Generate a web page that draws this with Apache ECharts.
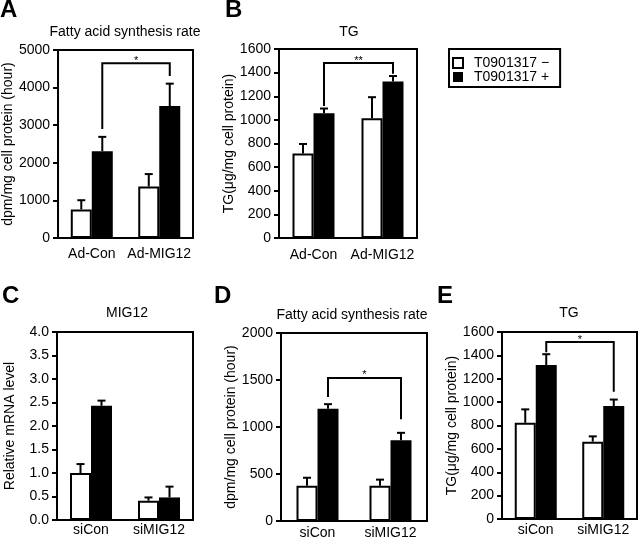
<!DOCTYPE html>
<html><head><meta charset="utf-8">
<script src="https://cdn.jsdelivr.net/npm/echarts@6/dist/echarts.min.js"></script>
<style>html,body{margin:0;padding:0;background:#fff}#c{width:640px;height:541px}</style>
</head><body><div id="c"></div>
<script>
// ---- data ----
const seriesNames = ['T0901317 \u2212', 'T0901317 +'];
const catsTop = ['Ad-Con', 'Ad-MIG12'];
const catsBottom = ['siCon', 'siMIG12'];

const aWhite = [760, 1370], aWhiteErr = [245, 330], aBlack = [2310, 3510], aBlackErr = [380, 595];
const bWhite = [716, 1014], bWhiteErr = [80, 178], bBlack = [1056, 1325], bBlackErr = [40, 46];
const cWhite = [1.0, 0.41], cWhiteErr = [0.19, 0.07], cBlack = [2.43, 0.48], cBlackErr = [0.11, 0.23];
const dWhite = [375, 375], dWhiteErr = [85, 65], dBlack = [1193, 860], dBlackErr = [50, 78];
const eWhite = [823, 662], eWhiteErr = [115, 45], eBlack = [1318, 967], eBlackErr = [92, 55];

// brackets: [leftLegBottom, rightLegBottom, top]
const aBracket = [2900, 4310, 4650], aBracketLabel = '*';
const bBracket = [1118, 1390, 1481], bBracketLabel = '**';
const dBracket = [1320, 1083, 1522], dBracketLabel = '*';
const eBracket = [1427, 1088, 1514], eBracketLabel = '*';

const yTicksA = {min: 0, max: 5000, interval: 1000};
const yTicksB = {min: 0, max: 1600, interval: 200};
const yTicksC = {min: 0, max: 4, interval: 0.5};
const yTicksD = {min: 0, max: 2000, interval: 500};
const yTicksE = {min: 0, max: 1600, interval: 200};

const panelTitles = ['Fatty acid synthesis rate', 'TG', 'MIG12', 'Fatty acid synthesis rate', 'TG'];
const panelLetters = ['A', 'B', 'C', 'D', 'E'];
const yNames = ['dpm/mg cell protein (hour)', 'TG(\u03bcg/mg cell protein)', 'Relative mRNA level', 'dpm/mg cell protein (hour)', 'TG(\u03bcg/mg cell protein)'];

// ---- layout ----
const FONT = '"Liberation Sans", Arial, Helvetica, sans-serif';
const BAR_W = 21, CAP = 4;
const grids = [
  {left: 58, top: 50, width: 135, height: 188},
  {left: 279, top: 49, width: 138, height: 189},
  {left: 57, top: 332, width: 136, height: 188},
  {left: 281, top: 333, width: 146, height: 188},
  {left: 502, top: 332, width: 135, height: 187}
];
const labelMargins = [9, 10, 3, 5, 4];
const nameGaps = [42, 38, 40, 41, 42];
const titlePos = [[125, 32], [349, 32], [127, 313], [352, 315], [569, 313]];
const letterPos = [[0, 10], [225, 10], [2, 296], [214, 296], [437, 296]];

const panels = [
  {cats: catsTop, w: aWhite, we: aWhiteErr, b: aBlack, be: aBlackErr, y: yTicksA, br: aBracket, brl: aBracketLabel},
  {cats: catsTop, w: bWhite, we: bWhiteErr, b: bBlack, be: bBlackErr, y: yTicksB, br: bBracket, brl: bBracketLabel},
  {cats: catsBottom, w: cWhite, we: cWhiteErr, b: cBlack, be: cBlackErr, y: yTicksC, br: null},
  {cats: catsBottom, w: dWhite, we: dWhiteErr, b: dBlack, be: dBlackErr, y: yTicksD, br: dBracket, brl: dBracketLabel},
  {cats: catsBottom, w: eWhite, we: eWhiteErr, b: eBlack, be: eBlackErr, y: yTicksE, br: eBracket, brl: eBracketLabel}
];

function errSeries(i, vals, errs, side) {
  return {
    type: 'custom', xAxisIndex: i, yAxisIndex: i, z: 5, silent: true,
    data: vals.map((v, k) => [k, v, errs[k]]),
    encode: {x: 0, y: 1},
    renderItem: function (params, api) {
      const c = api.coord([api.value(0), api.value(1)]);
      const t = api.coord([api.value(0), api.value(1) + api.value(2)]);
      const x = c[0] + side * BAR_W / 2;
      return {type: 'group', children: [
        {type: 'line', shape: {x1: x, y1: c[1], x2: x, y2: t[1]}, style: {stroke: '#000', lineWidth: 2}},
        {type: 'line', shape: {x1: x - CAP, y1: t[1], x2: x + CAP, y2: t[1]}, style: {stroke: '#000', lineWidth: 2}}
      ]};
    }
  };
}

function bracketSeries(i, br, label) {
  return {
    type: 'custom', xAxisIndex: i, yAxisIndex: i, z: 6, silent: true,
    data: [[0, 1, br[0], br[1], br[2]]],
    encode: {x: 0, y: 4},
    renderItem: function (params, api) {
      const xl = api.coord([api.value(0), 0])[0] + BAR_W / 2;
      const xr = api.coord([api.value(1), 0])[0] + BAR_W / 2;
      const yl = api.coord([0, api.value(2)])[1];
      const yr = api.coord([0, api.value(3)])[1];
      const yt = api.coord([0, api.value(4)])[1];
      return {type: 'group', children: [
        {type: 'polyline', shape: {points: [[xl, yl], [xl, yt], [xr, yt], [xr, yr]]}, style: {stroke: '#000', lineWidth: 2, fill: null}},
        {type: 'text', style: {text: label, x: (xl + xr) / 2, y: yt + 3, align: 'center', verticalAlign: 'bottom', fontSize: 11, fontFamily: FONT, fill: '#000'}}
      ]};
    }
  };
}

const option = {
  animation: false,
  backgroundColor: '#fff',
  grid: grids.map(g => Object.assign({show: true, borderColor: '#000', borderWidth: 2, backgroundColor: 'transparent', containLabel: false}, g)),
  xAxis: panels.map((p, i) => ({
    type: 'category', gridIndex: i, data: p.cats,
    axisLine: {lineStyle: {color: '#000', width: 2}},
    axisTick: {inside: true, length: 6, lineStyle: {color: '#000', width: 2}},
    axisLabel: {color: '#000', fontSize: 14, fontFamily: FONT, margin: labelMargins[i], interval: 0}
  })),
  yAxis: panels.map((p, i) => ({
    type: 'value', gridIndex: i, min: p.y.min, max: p.y.max, interval: p.y.interval,
    name: yNames[i], nameLocation: 'middle', nameGap: nameGaps[i],
    nameTextStyle: {color: '#000', fontSize: 14, fontFamily: FONT},
    axisLine: {show: true, lineStyle: {color: '#000', width: 2}},
    axisTick: {show: true, inside: false, length: 5, lineStyle: {color: '#000', width: 2}},
    splitLine: {show: false},
    axisLabel: {color: '#000', fontSize: 14, fontFamily: FONT, margin: 8,
      formatter: i === 2 ? (v => v.toFixed(1)) : (v => String(v))}
  })),
  legend: {
    orient: 'vertical', left: 449, top: 49, selectedMode: false,
    borderColor: '#000', borderWidth: 2, padding: [7, 11, 3, 3],
    itemWidth: 10, itemHeight: 10, itemGap: 0,
    textStyle: {color: '#000', fontSize: 14, fontFamily: FONT, padding: [0, 0, 0, 6]},
    data: [
      {name: seriesNames[0], icon: 'rect', itemStyle: {color: '#fff', borderColor: '#000', borderWidth: 2}},
      {name: seriesNames[1], icon: 'rect', itemStyle: {color: '#000', borderColor: '#000', borderWidth: 0}}
    ]
  },
  graphic: [].concat(
    panelTitles.map((t, i) => ({type: 'text', x: titlePos[i][0], y: titlePos[i][1], style: {text: t, align: 'center', verticalAlign: 'middle', fontSize: 14, fontFamily: FONT, fill: '#000'}})),
    panelLetters.map((t, i) => ({type: 'text', x: letterPos[i][0], y: letterPos[i][1], style: {text: t, align: 'left', verticalAlign: 'middle', fontSize: 24, fontWeight: 'bold', fontFamily: FONT, fill: '#000'}}))
  ),
  series: []
};

panels.forEach((p, i) => {
  option.series.push({type: 'bar', name: seriesNames[0], xAxisIndex: i, yAxisIndex: i, data: p.w, barWidth: BAR_W, barGap: '0%',
    itemStyle: {color: '#fff', borderColor: '#000', borderWidth: 2}, silent: true});
  option.series.push({type: 'bar', name: seriesNames[1], xAxisIndex: i, yAxisIndex: i, data: p.b, barWidth: BAR_W, barGap: '0%',
    itemStyle: {color: '#000', borderColor: '#000', borderWidth: 0}, silent: true});
  option.series.push(errSeries(i, p.w, p.we, -1));
  option.series.push(errSeries(i, p.b, p.be, 1));
  if (p.br) option.series.push(bracketSeries(i, p.br, p.brl));
});

const chart = echarts.init(document.getElementById('c'), null, {renderer: 'canvas'});
chart.setOption(option);
</script>
</body></html>
